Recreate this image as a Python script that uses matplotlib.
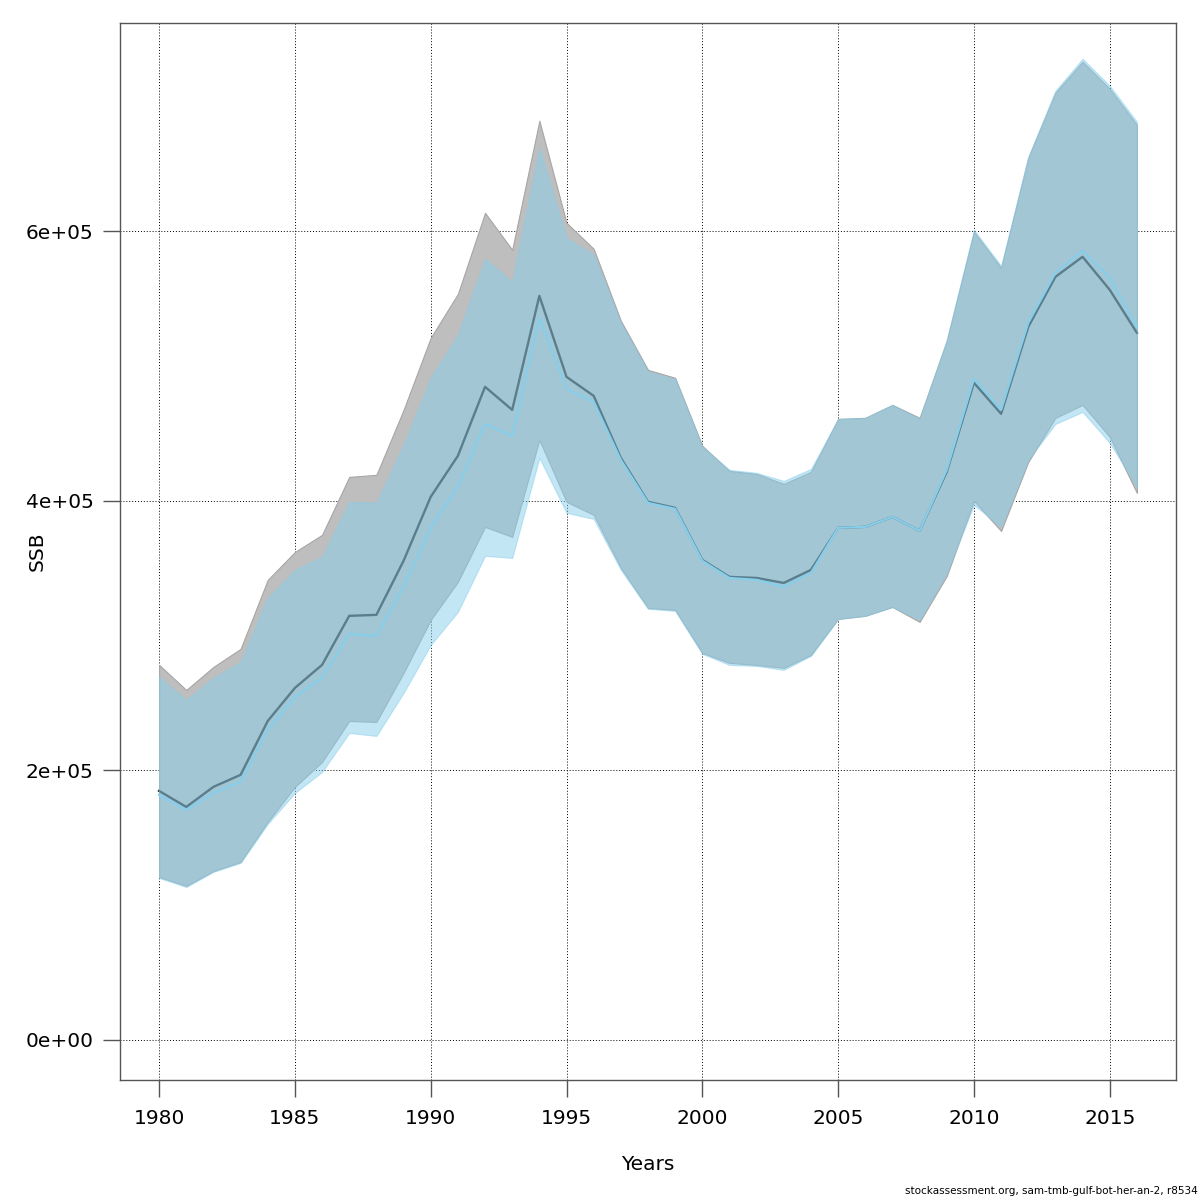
import matplotlib
matplotlib.use("Agg")
import matplotlib.pyplot as plt
import numpy as np

years = np.arange(1980, 2017)

# run 1 (grey band, dark line)
ssb_a = [184800, 172900, 187800, 196700, 236700, 261200, 278300, 314700, 315400, 355500,
         403000, 433400, 484600, 467500, 552100, 492000, 477900, 431900, 399300, 394800,
         356200, 343600, 342800, 339100, 348800, 380000, 380700, 388100, 377700, 421500,
         487600, 464600, 529100, 566200, 581100, 556600, 524700]
low_a = [121000, 114300, 125400, 132100, 161800, 187800, 206300, 236700, 236000, 272400,
         311700, 339900, 380700, 373300, 445300, 399300, 389600, 350300, 320600, 319100,
         287200, 279800, 278300, 276100, 285700, 312400, 314700, 321300, 310200, 344300,
         400000, 377700, 428900, 461600, 471200, 447500, 405900]
high_a = [278300, 259700, 276800, 290200, 341400, 362100, 374800, 417800, 419300, 467500,
          521000, 553600, 613700, 586300, 682000, 606300, 587000, 533600, 497200, 491300,
          440800, 422200, 420000, 412600, 421500, 460800, 461600, 471200, 461600, 518700,
          599600, 572900, 654500, 702800, 725800, 705700, 679000]

# run 2 (light blue band and line)
ssb_b = [181800, 170700, 183300, 191500, 230100, 254500, 268600, 301300, 299800, 336200,
         380000, 410400, 457100, 448200, 535800, 483100, 473500, 430400, 398500, 394100,
         355500, 342800, 341400, 336200, 346600, 380000, 380700, 388100, 377700, 423000,
         490500, 467500, 532100, 569200, 585500, 565500, 529100]
low_b = [120200, 113500, 124700, 131400, 160300, 183300, 198900, 227800, 225600, 257500,
         293100, 317600, 359200, 357700, 431900, 391100, 386600, 348800, 319900, 318400,
         286400, 278300, 277500, 274600, 285000, 312400, 314700, 321300, 311700, 346600,
         397000, 380700, 430400, 457100, 466000, 443000, 410400]
high_b = [269400, 252300, 268600, 280500, 328000, 348800, 358400, 399300, 398500, 441600,
          491300, 523200, 579600, 562500, 662000, 595200, 582500, 532100, 495700, 490500,
          440100, 423000, 420800, 414800, 423700, 460800, 461600, 471200, 460800, 519500,
          601100, 574400, 655300, 704300, 728000, 708000, 681300]

fig = plt.figure(figsize=(12, 12), dpi=100)
ax = fig.add_axes([0.1, 0.1, 0.88, 0.881])

ax.fill_between(years, low_a, high_a, facecolor='#bebebe', edgecolor='#a6a6a6', linewidth=0.8, zorder=2)
ax.plot(years, ssb_a, color='#2e2e2e', lw=1.7, zorder=3)
ax.fill_between(years, low_b, high_b, facecolor='#87ceeb', alpha=0.5, edgecolor='#87ceeb', linewidth=0.8, zorder=4)
ax.plot(years, ssb_b, color='#87ceeb', lw=1.6, zorder=5)

ax.set_xlim(1978.56, 2017.44)
ax.set_ylim(-29700, 754700)
ax.set_xticks(np.arange(1980, 2016, 5))
ax.set_yticks([0, 200000, 400000, 600000])
ax.set_yticklabels(['0e+00', '2e+05', '4e+05', '6e+05'])
ax.grid(True, color='black', linestyle=(0, (1, 2)), linewidth=0.7, zorder=1)

for s in ax.spines.values():
    s.set_color('#555555')
    s.set_linewidth(1.0)
ax.tick_params(axis='both', length=12, width=1.0, color='#555555', labelsize=14.5)
ax.tick_params(axis='y', pad=7)
ax.tick_params(axis='x', pad=9)

ax.set_xlabel('Years', fontsize=14.5, va='center')
ax.xaxis.set_label_coords(0.5, -0.0795)
ax.set_ylabel('SSB', fontsize=14.5, va='center')
ax.yaxis.set_label_coords(-0.0786, 0.5)

fig.text(0.998, 0.003, 'stockassessment.org, sam-tmb-gulf-bot-her-an-2, r8534',
         ha='right', va='bottom', fontsize=7.5)

fig.savefig('out.png', dpi=100)
